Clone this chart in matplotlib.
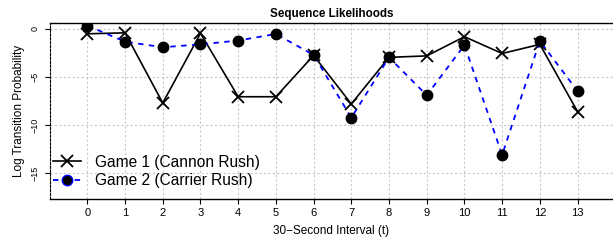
import matplotlib
matplotlib.use("Agg")
import matplotlib.pyplot as plt
import numpy as np

plt.rcParams['font.family'] = ['Liberation Sans', 'DejaVu Sans']

intervals = list(range(14))
game1 = [-0.5, -0.4, -7.7, -0.45, -7.05, -7.05, -2.75, -7.8, -2.95, -2.8, -0.8, -2.55, -1.6, -8.6]
game2 = [0.35, -1.32, -1.9, -1.6, -1.2, -0.52, -2.7, -9.24, -2.95, -6.9, -1.67, -13.1, -1.25, -6.46]
yticks = [0, -5, -10, -15]

fig = plt.figure(figsize=(6.13, 2.41), dpi=100)
ax = fig.add_axes([0.081, 0.174, 0.919, 0.732])

# grid
for t in range(-1, 14):
    ax.axvline(t, color='#c8c8c8', lw=0.8, ls=(0, (2, 2)), zorder=0)
for y in yticks:
    ax.axhline(y, color='#c8c8c8', lw=0.8, ls=(0, (2, 2)), zorder=0)

ax.plot(intervals, game1, color='black', lw=1.2, marker='x', ms=8, mew=1.3,
        label='Game 1 (Cannon Rush)', zorder=3)
ax.plot(intervals, game2, color='blue', lw=1.3, ls=(0, (3, 3)), marker='o', ms=7.5,
        mfc='black', mec='black', label='Game 2 (Carrier Rush)', zorder=4)

ax.set_xlim(-1, 13.94)
ax.set_ylim(-17.7, 0.66)
ax.set_xticks(intervals)
ax.set_yticks(yticks)
ax.set_yticklabels(['0', '\u22125', '\u221210', '\u221215'], rotation=90, va='center')
ax.tick_params(axis='x', labelsize=8, length=3.5, width=0.8, pad=3)
ax.tick_params(axis='y', labelsize=6.5, length=3.5, width=0.8, pad=4)

ax.spines['right'].set_visible(False)
ax.spines['left'].set_linestyle((0, (2, 1.5)))
ax.spines['left'].set_linewidth(0.8)
ax.spines['top'].set_linewidth(1.0)
ax.spines['bottom'].set_linewidth(1.0)

ax.set_title('Sequence Likelihoods', fontsize=8.4, fontweight='bold', pad=4)
ax.set_xlabel('30\u2212Second Interval (t)', fontsize=8.5, labelpad=5)
ax.set_ylabel('Log Transition Probability', fontsize=8.5, labelpad=4)

leg = ax.legend(loc='lower left', frameon=False, fontsize=11.2, handlelength=1.8,
                handletextpad=0.9, borderaxespad=0.2, labelspacing=0.2,
                bbox_to_anchor=(-0.01, 0.01))
leg.legend_handles[1].set_markeredgecolor('blue')

fig.savefig('out.png', dpi=100)
